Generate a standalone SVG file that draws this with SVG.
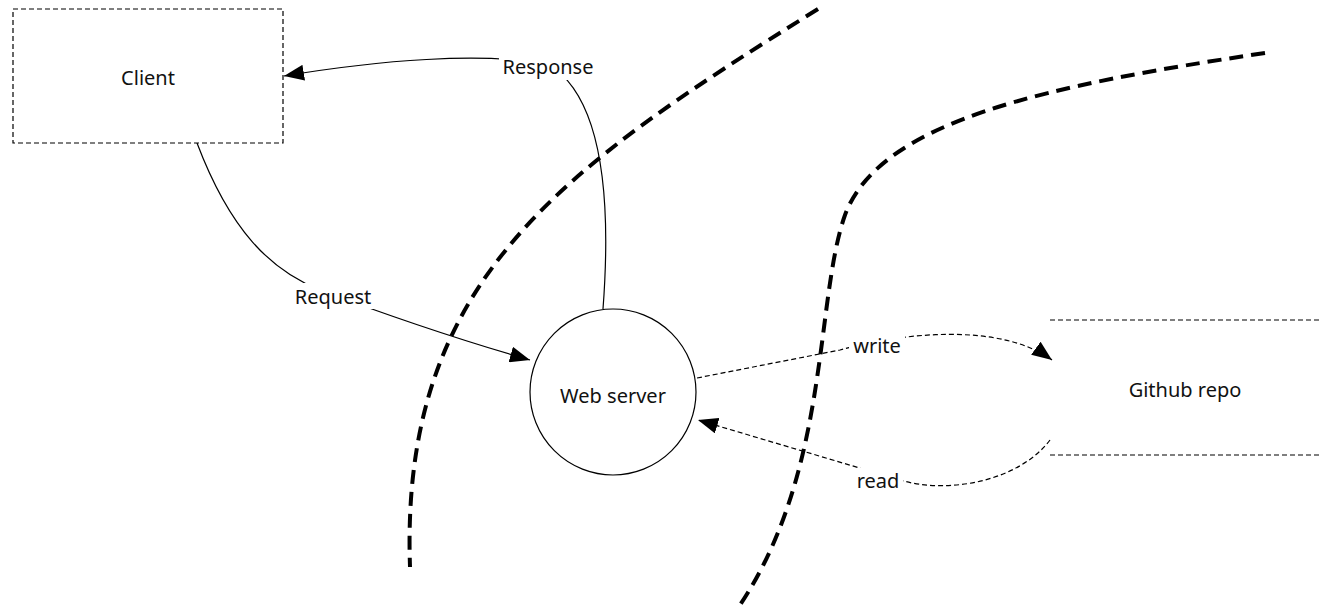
<svg xmlns="http://www.w3.org/2000/svg" width="1322" height="609" viewBox="0 0 1322 609">
<style>
text{font-family:"Noto Sans","DejaVu Sans",sans-serif;font-size:20px;fill:#111;text-anchor:middle;dominant-baseline:central}
.edge{fill:none;stroke:#000;stroke-width:1.2}
.dash{stroke-dasharray:5,3}
.bound{fill:none;stroke:#000;stroke-width:4;stroke-dasharray:14,8}
.lbl{fill:#fff}
</style>
<defs>
<marker id="arr" viewBox="0 0 20 16" refX="20" refY="8" markerWidth="20" markerHeight="16" markerUnits="userSpaceOnUse" orient="auto">
<path d="M0,0 L20,8 L0,16 Z" fill="#000"/>
</marker>
</defs>
<rect width="1322" height="609" fill="#fff"/>
<g id="boundaries">
<path class="bound" d="M818,9 C560,170 400,280 410,567"/>
<path class="bound" d="M1265,53 C1050,85 880,120 845,215 C815,300 830,470 740,605"/>
</g>
<g id="connectors">
<path class="edge" d="M603,309 C612,190 600,95 548,64 C480,52 380,60 284,76" marker-end="url(#arr)"/>
<path class="edge" d="M197,143 C230,230 270,270 320,290 C400,320 460,340 530,360" marker-end="url(#arr)"/>
<path class="edge dash" d="M697,378 L840,350 C900,333 1000,322 1052,360" marker-end="url(#arr)"/>
<path class="edge dash" d="M1050,440 C1020,480 950,495 900,480 L698,420" marker-end="url(#arr)"/>
<rect class="lbl" x="499" y="54" width="100" height="26"/>
<text x="548" y="66">Response</text>
<rect class="lbl" x="290" y="283" width="86" height="26"/>
<text x="333" y="296">Request</text>
<rect class="lbl" x="849" y="333" width="56" height="24"/>
<text x="877" y="345">write</text>
<rect class="lbl" x="853" y="468" width="50" height="24"/>
<text x="878" y="480">read</text>
</g>
<g id="client">
<rect x="13" y="9" width="270" height="134" fill="#fff" stroke="#000" stroke-width="1.2" stroke-dasharray="5,3"/>
<text x="148" y="77">Client</text>
</g>
<g id="webserver">
<circle cx="613" cy="392" r="83" fill="#fff" stroke="#000" stroke-width="1.2"/>
<text x="613" y="395">Web server</text>
</g>
<g id="github">
<line x1="1050" y1="320" x2="1320" y2="320" stroke="#000" stroke-width="1.2" stroke-dasharray="5,3"/>
<line x1="1050" y1="455" x2="1320" y2="455" stroke="#000" stroke-width="1.2" stroke-dasharray="5,3"/>
<text x="1185" y="389">Github repo</text>
</g>
</svg>
